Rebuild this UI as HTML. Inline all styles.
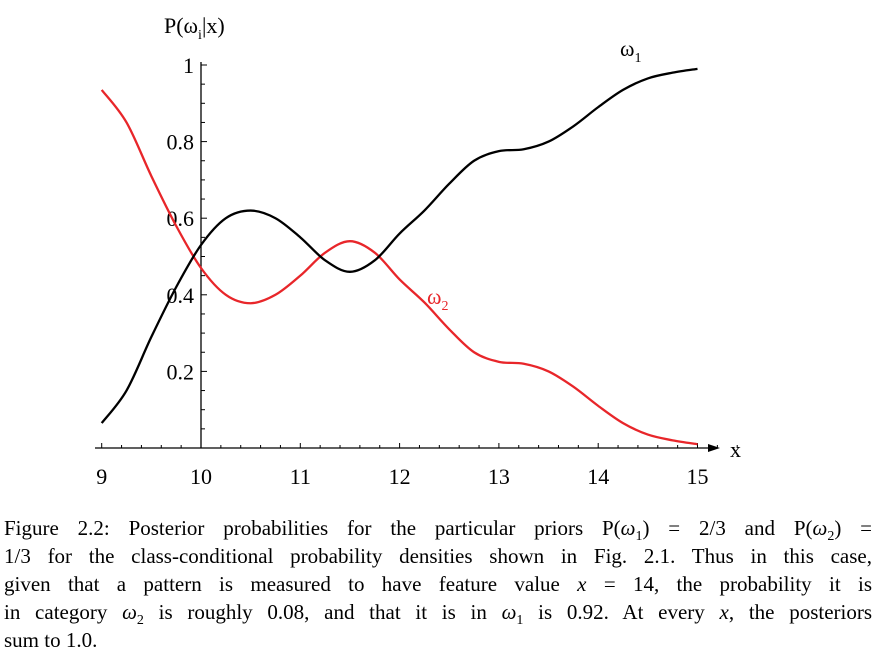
<!DOCTYPE html>
<html><head><meta charset="utf-8"><style>
body{margin:0;background:#fff;width:879px;height:666px;overflow:hidden;position:relative}
svg{position:absolute;left:0;top:0}
.cap{position:absolute;left:4px;width:868px;top:514px;font-family:"Liberation Serif",serif;font-size:21px;line-height:28px;color:#000}
.cap div{font-family:"Liberation Serif",serif;text-align:justify;text-align-last:justify;white-space:nowrap;height:28px}
.cap div.last{text-align-last:left}
i{font-style:italic}
sub{font-size:14px}
</style></head><body>
<svg width="879" height="510" font-family="Liberation Serif, serif">
<g id="axes"></g>
<g id="plot"></g>
</svg>
<div class="cap">
<div>Figure 2.2: Posterior probabilities for the particular priors P(<i>ω</i><sub>1</sub>) = 2/3 and P(<i>ω</i><sub>2</sub>) =</div>
<div>1/3 for the class-conditional probability densities shown in Fig. 2.1. Thus in this case,</div>
<div>given that a pattern is measured to have feature value <i>x</i> = 14, the probability it is</div>
<div>in category <i>ω</i><sub>2</sub> is roughly 0.08, and that it is in <i>ω</i><sub>1</sub> is 0.92. At every <i>x</i>, the posteriors</div>
<div class="last">sum to 1.0.</div>
</div>
<script>
const xs=[9,9.25,9.5,9.75,10,10.25,10.5,10.75,11,11.25,11.5,11.75,12,12.25,12.5,12.75,13,13.25,13.5,13.75,14,14.25,14.5,14.75,15];
const w1=[0.065,0.15,0.29,0.42,0.53,0.60,0.62,0.60,0.55,0.49,0.46,0.49,0.56,0.62,0.69,0.75,0.775,0.78,0.80,0.84,0.89,0.935,0.965,0.98,0.99];
const w2=[0.935,0.85,0.71,0.58,0.47,0.40,0.378,0.40,0.45,0.51,0.54,0.51,0.44,0.38,0.31,0.25,0.225,0.22,0.20,0.16,0.11,0.065,0.035,0.02,0.01];
const xTicks=[9,10,11,12,13,14,15];
const yTicks=[0.2,0.4,0.6,0.8,1];
const X=v=>201+(v-10)*99.3, Y=v=>448-v*383;
const NS="http://www.w3.org/2000/svg";
const ax=document.getElementById('axes'), pl=document.getElementById('plot');
function mk(tag,at,par,txt){const e=document.createElementNS(NS,tag);for(const k in at)e.setAttribute(k,at[k]);if(txt!=null)e.textContent=txt;par.appendChild(e);return e;}
let e=mk('line',{x1:95,y1:448,x2:712,y2:448,stroke:'#000','stroke-width':1.3},ax);


e=mk('path',{d:'M720 448 L708 444 L708 452 Z',fill:'#000'},ax);


e=mk('line',{x1:201,y1:62,x2:201,y2:448,stroke:'#000','stroke-width':1.3},ax);


for(let v=9;v<=15.41;v+=0.2){const x=X(v);const major=Math.abs(v-Math.round(v))<0.01;mk('line',{x1:x,y1:448,x2:x,y2:major?443:445,stroke:'#000','stroke-width':1},ax);}
for(let v=0.05;v<=1.001;v+=0.05){const y=Y(v);const major=Math.abs(v*5-Math.round(v*5))<0.01;mk('line',{x1:201,y1:y,x2:major?207:205,y2:y,stroke:'#000','stroke-width':1},ax);}
xTicks.forEach(t=>{e=mk('text',{x:X(t),y:484,'font-size':22,'text-anchor':'middle'},ax,String(t));

});
yTicks.forEach(t=>{e=mk('text',{x:194,y:Y(t)+8,'font-size':22,'text-anchor':'end'},ax,String(t));

});
e=mk('text',{x:164,y:33,'font-size':22},ax);e.innerHTML='P(ω<tspan font-size="14" dy="6">i</tspan><tspan dy="-6">|x)</tspan>';


e=mk('text',{x:730,y:457,'font-size':22},ax,'x');


function path(ys){const p=xs.map((x,i)=>[X(x),Y(ys[i])]);let d='M'+p[0][0]+' '+p[0][1];
for(let i=0;i<p.length-1;i++){const p0=p[i-1]||p[i],p1=p[i],p2=p[i+1],p3=p[i+2]||p2;
d+=` C${p1[0]+(p2[0]-p0[0])/6} ${p1[1]+(p2[1]-p0[1])/6} ${p2[0]-(p3[0]-p1[0])/6} ${p2[1]-(p3[1]-p1[1])/6} ${p2[0]} ${p2[1]}`;}return d;}
e=mk('path',{d:path(w2),fill:'none',stroke:'#e8262a','stroke-width':2.3},pl);


e=mk('path',{d:path(w1),fill:'none',stroke:'#000','stroke-width':2.3},pl);


e=mk('text',{x:620,y:56,'font-size':22},pl);e.innerHTML='ω<tspan font-size="14" dy="6">1</tspan>';


e=mk('text',{x:427,y:304,'font-size':22,fill:'#e8262a'},pl);e.innerHTML='ω<tspan font-size="14" dy="6">2</tspan>';


</script>
</body></html>
